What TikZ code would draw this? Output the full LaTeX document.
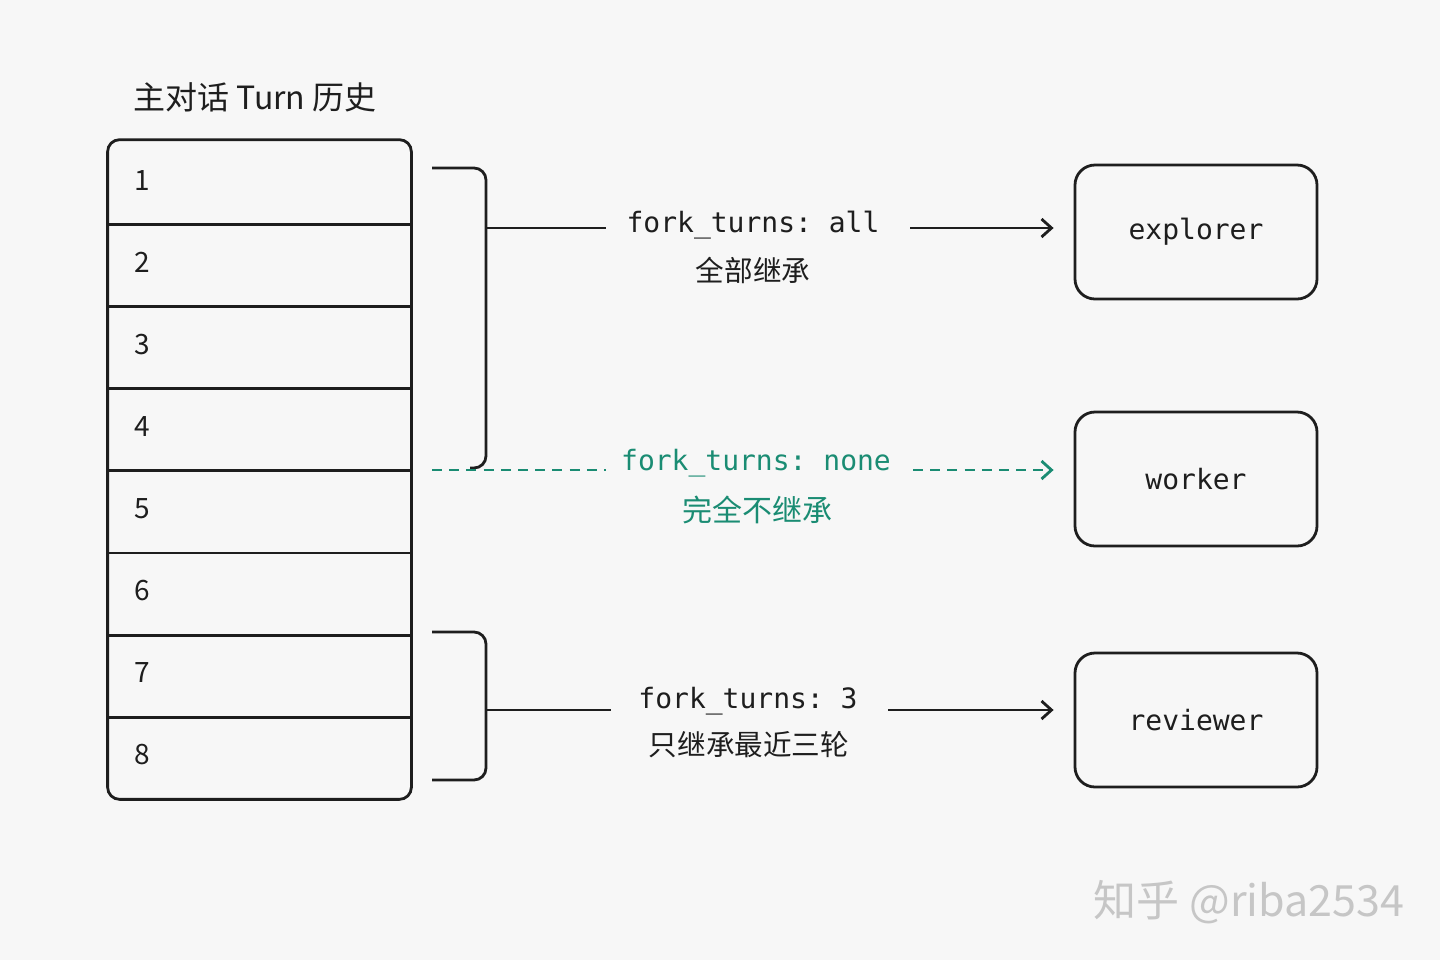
\documentclass[tikz,border=0pt]{standalone}
\usepackage{fontspec}
\setmainfont{Noto Sans CJK SC}
\newfontfamily\cjk{Noto Sans CJK SC}
\setmonofont{DejaVu Sans Mono}
\usetikzlibrary{arrows.meta}
\definecolor{bgc}{HTML}{F7F7F7}
\definecolor{ink}{HTML}{1E1E1E}
\definecolor{greenln}{HTML}{1A8C73}
\definecolor{wm}{HTML}{C6C6C6}
\begin{document}
\begin{tikzpicture}[x=0.5pt,y=-0.5pt,
  line width=1.4pt, draw=ink,
  rowbox/.style={minimum width=150.5pt, minimum height=41pt, inner sep=0pt},
  numtxt/.style={font=\cjk\fontsize{14}{16}\selectfont, text=ink, inner sep=0pt},
  agent/.style={draw=ink, rounded corners=10pt, minimum width=121pt, minimum height=67pt, inner sep=0pt, font=\ttfamily\fontsize{14}{16}\selectfont, text=ink},
  codetxt/.style={font=\ttfamily\fontsize{14}{16}\selectfont, text=ink, inner sep=0pt},
  cntxt/.style={font=\cjk\fontsize{14.3}{16}\selectfont, text=ink, inner sep=0pt},
  arr/.style={-{Straight Barb[length=5pt,width=9pt]}, shorten >=10pt},
  dsh/.style={dash pattern=on 5pt off 3.6pt, draw=greenln}
]
\fill[bgc] (0,0) rectangle (1440,960);
\useasboundingbox (0,0) rectangle (1440,960);

% title
\node[anchor=west, font=\cjk\fontsize{16}{18}\selectfont, text=ink, inner sep=0pt] (title) at (132,97) {主对话 Turn 历史};

% stack of turns
\foreach \i in {1,...,8} {
  \node[rowbox] (r\i) at (259.5, {141+82.125*(\i-0.5)}) {};
  \node[numtxt] (n\i) at (142, {139+82.125*(\i-0.5)}) {\i};
}
\draw[rounded corners=6pt] (r1.north west) rectangle (r8.south east);
\foreach \i in {1,...,7} {
  \draw (r\i.south west) -- (r\i.south east);
}

% agents
\node[agent] (explorer) at (1196,232) {explorer};
\node[agent] (worker) at (1196,479) {worker};
\node[agent] (reviewer) at (1196,720) {reviewer};

% bracket 1 (turns 1-4)
\draw[rounded corners=6pt] (432,168) -- (486,168) -- (486,468) -- (470,468);
\coordinate (b1) at (486,228);
\coordinate (b1e) at (606,228);
\draw (b1) -- (b1e);
\node[codetxt] (lab1) at (753,225) {fork\_turns: all};
\node[cntxt] (sub1) at (753,270) {全部继承};
\coordinate (a1) at (910,228);
\draw[arr] (a1) -- (explorer.west |- a1);

% dashed none
\coordinate (d0) at (432,470);
\coordinate (d1) at (606,470);
\draw[dsh] (d0) -- (d1);
\node[codetxt, text=greenln] (lab2) at (756,463) {fork\_turns: none};
\node[cntxt, text=greenln, font=\cjk\fontsize{15}{17}\selectfont] (sub2) at (757,510) {完全不继承};
\coordinate (a2) at (913,470);
\draw[dsh, arr] (a2) -- (worker.west |- a2);

% bracket 2 (turns 7-8)
\draw[rounded corners=6pt] (432,632) -- (486,632) -- (486,780) -- (432,780);
\coordinate (b3) at (486,710);
\coordinate (b3e) at (611,710);
\draw (b3) -- (b3e);
\node[codetxt] (lab3) at (748,701) {fork\_turns: 3};
\node[cntxt] (sub3) at (749,745) {只继承最近三轮};
\coordinate (a3) at (888,710);
\draw[arr] (a3) -- (reviewer.west |- a3);

% watermark
\node[font=\cjk\fontsize{21.5}{23}\selectfont, text=wm, inner sep=0pt] (wmark) at (1249,902) {知乎 @riba2534};
\end{tikzpicture}
\end{document}
